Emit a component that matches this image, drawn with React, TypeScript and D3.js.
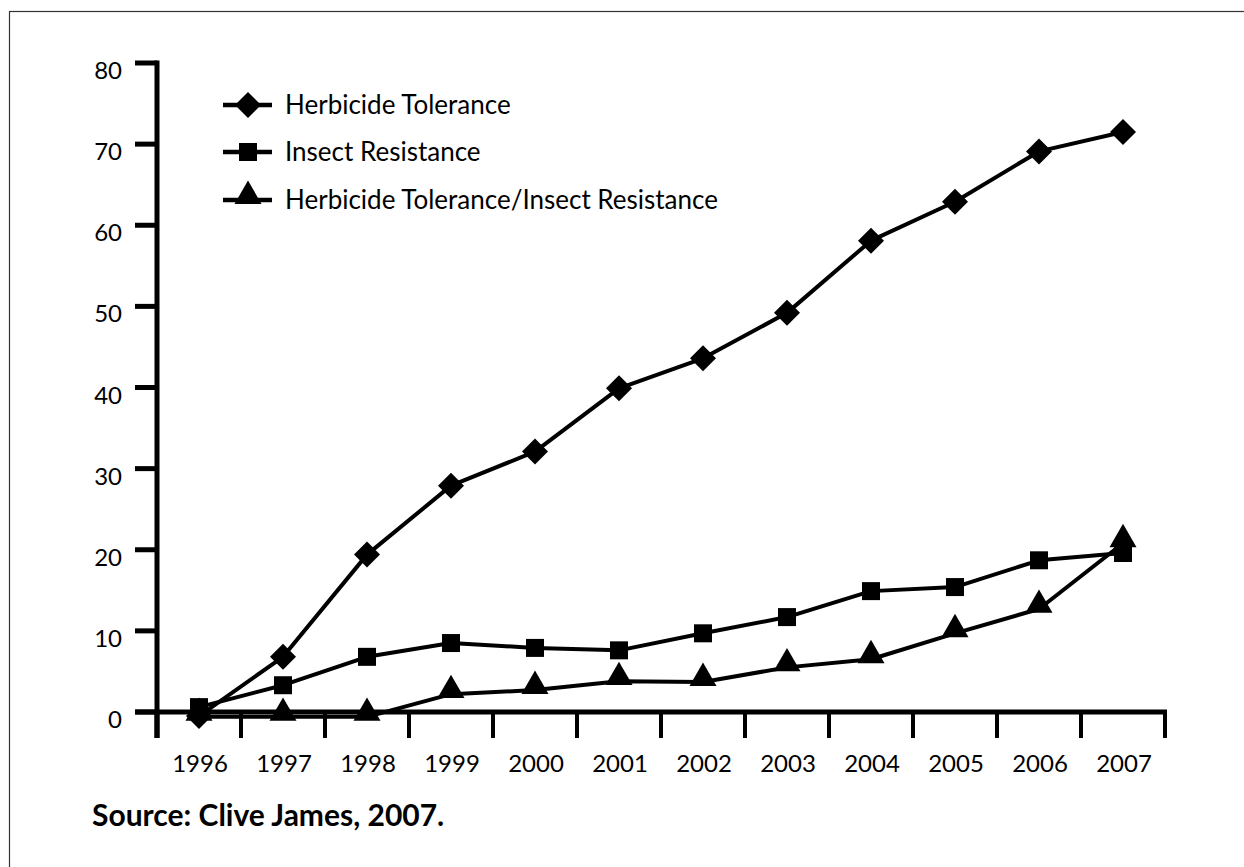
import React from "react";
import * as d3 from "d3";

const years = ["1996","1997","1998","1999","2000","2001","2002","2003","2004","2005","2006","2007"];
const herbicideTolerance = [-0.5, 6.8, 19.4, 27.9, 32.1, 39.9, 43.6, 49.2, 58.1, 62.9, 69.1, 71.5];
const insectResistance = [0.6, 3.3, 6.8, 8.5, 7.9, 7.6, 9.7, 11.7, 14.9, 15.4, 18.7, 19.6];
const stacked = [-0.6, -0.6, -0.6, 2.2, 2.7, 3.8, 3.7, 5.5, 6.5, 9.7, 12.7, 20.8];
const yTicks = [0, 10, 20, 30, 40, 50, 60, 70, 80];
const seriesNames = ["Herbicide Tolerance", "Insect Resistance", "Herbicide Tolerance/Insect Resistance"];
const sourceText = "Source: Clive James, 2007.";

const W = 1244, H = 867;
const FONT = "Lato, 'Open Sans', sans-serif";

type Shape = "diamond" | "square" | "triangle";

function markerPath(shape: Shape): { d: string; dy: number } {
  if (shape === "diamond") {
    const side = 26 / Math.SQRT2;
    return { d: d3.symbol(d3.symbolSquare, side * side)() as string, dy: 0 };
  }
  if (shape === "square") {
    return { d: d3.symbol(d3.symbolSquare, 18 * 18)() as string, dy: 0 };
  }
  const base = 27;
  const h = (base * Math.sqrt(3)) / 2;
  return { d: d3.symbol(d3.symbolTriangle, (Math.sqrt(3) / 4) * base * base)() as string, dy: -h / 6 };
}

function Marker({ shape, x, y }: { shape: Shape; x: number; y: number }) {
  const m = markerPath(shape);
  const rot = shape === "diamond" ? " rotate(45)" : "";
  return <path d={m.d} transform={`translate(${x},${y + m.dy})${rot}`} fill="#000" />;
}

export default function App() {
  const x = d3.scaleBand<string>().domain(years).range([157, 1165]).paddingInner(0).paddingOuter(0);
  const y = d3.scaleLinear().domain([0, 80]).range([712, 63]);
  const cx = (yr: string) => (x(yr) as number) + x.bandwidth() / 2;
  const line = d3.line<number>().x((_, i) => cx(years[i])).y((v) => y(v));

  const series: { name: string; values: number[]; shape: Shape }[] = [
    { name: seriesNames[0], values: herbicideTolerance, shape: "diamond" },
    { name: seriesNames[1], values: insectResistance, shape: "square" },
    { name: seriesNames[2], values: stacked, shape: "triangle" },
  ];

  const boundaries = years.map((yr) => x(yr) as number).concat([x.range()[1]]);
  const legendRows = [105, 152, 200];

  return (
    <svg width={W} height={H} style={{ position: "absolute", left: 0, top: 0, background: "#fff" }}>
      <rect x={0} y={0} width={W} height={H} fill="#fff" />
      <rect x={9.5} y={11.5} width={W + 20} height={H + 20} fill="none" stroke="#333" strokeWidth={1.2} />

      {/* y axis */}
      <line x1={157} x2={157} y1={y(80) - 2.5} y2={738} stroke="#000" strokeWidth={5} />
      {yTicks.map((t) => (
        <g key={t}>
          <line x1={135} x2={157} y1={y(t)} y2={y(t)} stroke="#000" strokeWidth={5} />
          <text x={122} y={y(t) + 16} textAnchor="end" fontFamily={FONT} fontSize={24} fill="#000">{t}</text>
        </g>
      ))}

      {/* x axis */}
      <line x1={135} x2={x.range()[1] + 2} y1={y(0)} y2={y(0)} stroke="#000" strokeWidth={5} />
      {boundaries.map((b, i) => (
        <line key={i} x1={b} x2={b} y1={y(0)} y2={738} stroke="#000" strokeWidth={i === 0 ? 5 : 4} />
      ))}
      {years.map((yr) => (
        <text key={yr} x={cx(yr) + 1} y={772} textAnchor="middle" fontFamily={FONT} fontSize={24} fill="#000">{yr}</text>
      ))}

      {/* series */}
      {series.map((s) => (
        <g key={s.name}>
          <path d={line(s.values) as string} fill="none" stroke="#000" strokeWidth={4} strokeLinejoin="round" />
          {s.values.map((v, i) => (
            <Marker key={i} shape={s.shape} x={cx(years[i])} y={y(v)} />
          ))}
        </g>
      ))}

      {/* legend */}
      {series.map((s, i) => (
        <g key={s.name}>
          <line x1={223} x2={272} y1={legendRows[i]} y2={legendRows[i]} stroke="#000" strokeWidth={4.5} />
          <Marker shape={s.shape} x={248} y={legendRows[i]} />
          <text x={285} y={legendRows[i] + 9} fontFamily={FONT} fontSize={26} fill="#000">{s.name}</text>
        </g>
      ))}

      <text x={92} y={826} fontFamily={FONT} fontSize={30} fontWeight="bold" fill="#000">{sourceText}</text>
    </svg>
  );
}
